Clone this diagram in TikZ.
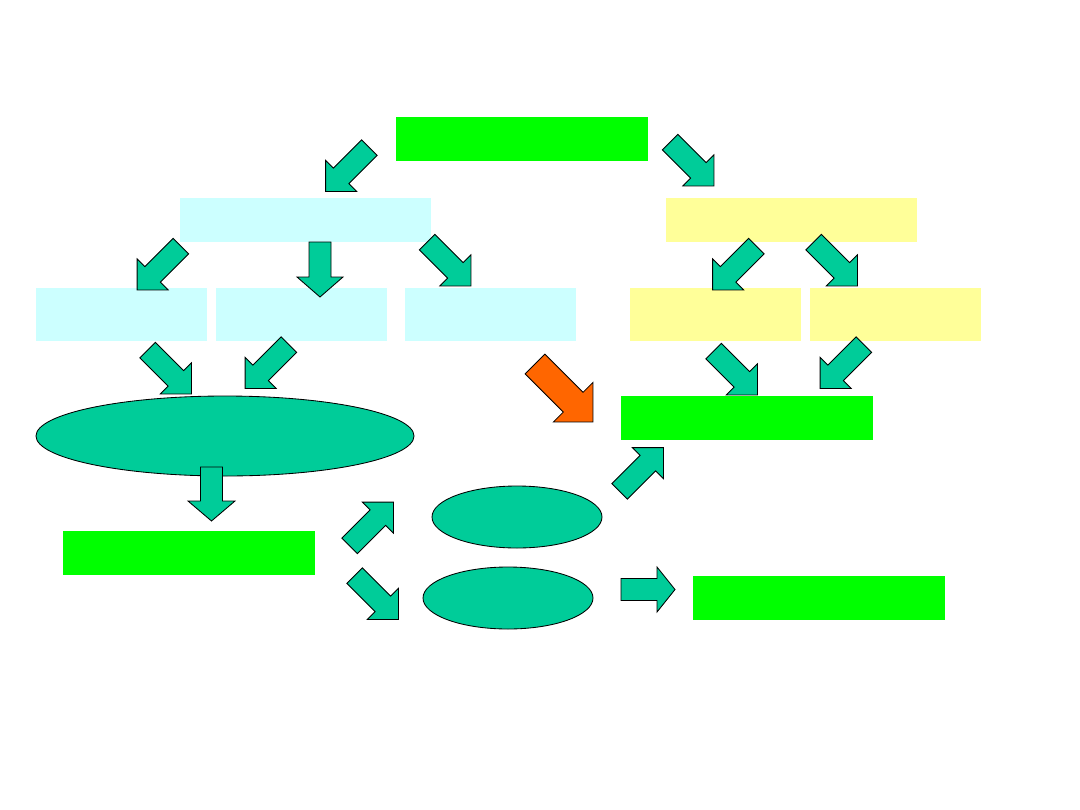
\documentclass[tikz,border=0pt]{standalone}
\usetikzlibrary{shapes.geometric}
\definecolor{brightgreen}{HTML}{00FF00}
\definecolor{lightcyan}{HTML}{CCFFFF}
\definecolor{lightyellow}{HTML}{FFFF99}
\definecolor{seagreen}{HTML}{00CC99}
\definecolor{orangered}{HTML}{FF6600}
\tikzset{
  greenbox/.style={fill=brightgreen, draw=none},
  cyanbox/.style={fill=lightcyan, draw=none},
  yellowbox/.style={fill=lightyellow, draw=none},
  oval/.style={fill=seagreen, draw=black, line width=0.6pt},
  barrow/.style={fill=seagreen, draw=black, line width=0.6pt, line join=miter},
  obarrow/.style={fill=orangered, draw=black, line width=0.6pt, line join=miter}
}
% #1 style, #2 x, #3 y, #4 angle, #5 length, #6 head width, #7 shaft width, #8 head length
\newcommand\blockarrow[8]{%
  \draw[#1, shift={(#2,#3)}, rotate=#4]
    (-#5/2,-#7/2) -- (#5/2-#8,-#7/2) -- (#5/2-#8,-#6/2) -- (#5/2,0)
    -- (#5/2-#8,#6/2) -- (#5/2-#8,#7/2) -- (-#5/2,#7/2) -- cycle;}
\begin{document}
\begin{tikzpicture}[x=0.025cm, y=-0.025cm]
\useasboundingbox (0,0) rectangle (1080,810);
% boxes
\path[greenbox] (396,117) rectangle (648,161) coordinate (topend);
\path[cyanbox] (180,198) rectangle (431,242);
\path[yellowbox] (666,198) rectangle (917,242);
\path[cyanbox] (36,288) rectangle (207,341);
\path[cyanbox] (216,288) rectangle (387,341);
\path[cyanbox] (405,288) rectangle (576,341);
\path[yellowbox] (630,288) rectangle (801,341);
\path[yellowbox] (810,288) rectangle (981,341);
\path[greenbox] (621,396) rectangle (873,440);
\path[greenbox] (63,531) rectangle (315,575);
\path[greenbox] (693,576) rectangle (945,620);
% ellipses
\node[oval, ellipse, minimum width=378*0.025cm, minimum height=80*0.025cm, inner sep=0pt] (bigoval) at (225,436) {};
\node[oval, ellipse, minimum width=170*0.025cm, minimum height=62*0.025cm, inner sep=0pt] (ovalA) at (517,517) {};
\node[oval, ellipse, minimum width=170*0.025cm, minimum height=62*0.025cm, inner sep=0pt] (ovalB) at (508,598) {};
% block arrows
\blockarrow{barrow}{347.5}{169.5}{225}{62}{44}{22}{22}
\blockarrow{barrow}{692}{164}{-45}{62}{44}{22}{22}
\blockarrow{barrow}{159}{268}{225}{62}{44}{22}{22}
\blockarrow{barrow}{320}{269.5}{-90}{55}{46}{22}{20}
\blockarrow{barrow}{449}{264}{-45}{62}{44}{22}{22}
\blockarrow{barrow}{734.5}{268}{225}{62}{44}{22}{22}
\blockarrow{barrow}{835.5}{264}{-45}{62}{44}{22}{22}
\blockarrow{barrow}{169.5}{372}{-45}{62}{44}{22}{22}
\blockarrow{barrow}{267}{366.5}{225}{62}{44}{22}{22}
\blockarrow{obarrow}{564}{393}{-45}{82}{56}{28}{28}
\blockarrow{barrow}{735.5}{373}{-45}{62}{44}{22}{22}
\blockarrow{barrow}{842}{366.5}{225}{62}{44}{22}{22}
\blockarrow{barrow}{211.5}{494}{-90}{54}{47}{22}{20}
\blockarrow{barrow}{371.5}{524}{45}{62}{44}{22}{22}
\blockarrow{barrow}{376.5}{597.5}{-45}{62}{44}{22}{22}
\blockarrow{barrow}{641.5}{469.5}{45}{62}{44}{22}{22}
\blockarrow{barrow}{648}{589.5}{0}{54}{45}{22}{18}
\end{tikzpicture}
\end{document}
